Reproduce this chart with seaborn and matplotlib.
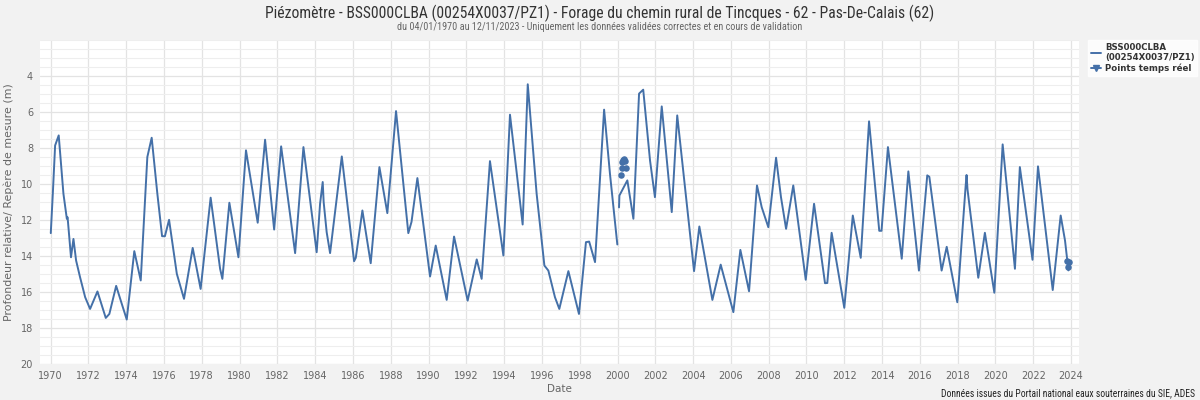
import numpy as np
import pandas as pd
import matplotlib
matplotlib.use("Agg")
import matplotlib.pyplot as plt
import seaborn as sns
from matplotlib import font_manager
from matplotlib.lines import Line2D
from matplotlib.ticker import MultipleLocator, FixedLocator

# ---- data (decimal year, depth in m) ----
years = [
    1970.01, 1970.12, 1970.24, 1970.43, 1970.68, 1970.86, 1970.90, 1971.08, 1971.21, 1971.35,
    1971.56, 1971.83, 1972.09, 1972.48, 1972.92, 1973.11, 1973.47, 1973.75, 1974.03, 1974.43,
    1974.77, 1975.12, 1975.35, 1975.65, 1975.90, 1976.05, 1976.27, 1976.68, 1977.06, 1977.52,
    1977.94, 1978.47, 1978.97, 1979.09, 1979.46, 1979.94, 1980.34, 1980.96, 1981.35, 1981.83,
    1982.20, 1982.94, 1983.38, 1984.08, 1984.26, 1984.40, 1984.45, 1984.61, 1984.79, 1985.41,
    1986.06, 1986.15, 1986.50, 1986.94, 1987.40, 1987.82, 1988.28, 1988.93, 1989.10, 1989.41,
    1990.08, 1990.38, 1990.96, 1991.35, 1992.07, 1992.55, 1992.81, 1993.25, 1993.96, 1994.31,
    1994.98, 1995.25, 1995.72, 1996.13, 1996.34, 1996.69, 1996.92, 1997.40, 1997.96, 1998.33,
    1998.50, 1998.81, 1999.29, 1999.60, 1999.99,
    2000.08, 2000.10, 2000.52, 2000.84, 2001.14, 2001.36, 2001.72, 2001.98, 2002.34, 2002.87,
    2003.16, 2004.05, 2004.33, 2005.02, 2005.46, 2006.13, 2006.50, 2006.96, 2007.38, 2007.63,
    2007.98, 2008.39, 2008.65, 2008.92, 2009.30, 2009.96, 2010.40, 2010.98, 2011.10, 2011.33,
    2012.00, 2012.45, 2012.87, 2013.31, 2013.85, 2013.97, 2014.31, 2015.04, 2015.39, 2015.95,
    2016.39, 2016.50, 2017.15, 2017.42, 2017.98, 2018.42, 2018.47, 2018.52, 2019.09, 2019.44,
    2019.94, 2020.38, 2021.03, 2021.29, 2021.96, 2022.25, 2023.03, 2023.45, 2023.68, 2023.86,
]
levels = [
    12.73, 10.50, 7.86, 7.30, 10.54, 11.93, 11.85, 14.07, 13.05, 14.25,
    15.18, 16.29, 16.94, 15.97, 17.44, 17.22, 15.66, 16.60, 17.53, 13.73,
    15.36, 8.50, 7.43, 10.54, 12.90, 12.90, 11.99, 14.99, 16.38, 13.55,
    15.83, 10.76, 14.71, 15.27, 11.04, 14.07, 8.13, 12.15, 7.54, 12.53,
    7.91, 13.84, 7.95, 13.79, 11.10, 9.89, 11.00, 12.68, 13.84, 8.47,
    14.29, 14.10, 11.47, 14.40, 9.06, 11.62, 5.95, 12.73, 12.10, 9.67,
    15.14, 13.42, 16.44, 12.92, 16.48, 14.19, 15.27, 8.73, 13.97, 6.15,
    12.25, 4.46, 10.54, 14.53, 14.81, 16.29, 16.94, 14.84, 17.22, 13.23,
    13.20, 14.34, 5.87, 9.43, 13.36,
    11.30, 10.64, 9.80, 11.93, 4.98, 4.76, 8.69, 10.73, 5.69, 11.56,
    6.19, 14.84, 12.36, 16.44, 14.48, 17.12, 13.66, 15.96, 10.08, 11.29,
    12.40, 8.54, 10.73, 12.49, 10.08, 15.32, 11.10, 15.51, 15.50, 12.71,
    16.88, 11.75, 14.10, 6.52, 12.60, 12.60, 7.95, 14.15, 9.30, 14.81,
    9.52, 9.60, 14.81, 13.49, 16.57, 10.13, 9.50, 10.30, 15.21, 12.71,
    16.04, 7.80, 14.71, 9.06, 14.21, 9.02, 15.89, 11.75, 13.14, 14.80,
]
rt_years = [2000.19, 2000.22, 2000.26, 2000.30, 2000.34, 2000.38, 2000.44, 2023.80, 2023.84, 2023.88]
rt_levels = [9.52, 9.10, 8.80, 8.65, 8.62, 8.70, 9.10, 14.30, 14.60, 14.35]

series_label = "BSS000CLBA\n(00254X0037/PZ1)"
rt_label = "Points temps réel"
title = "Piézomètre - BSS000CLBA (00254X0037/PZ1) - Forage du chemin rural de Tincques - 62 - Pas-De-Calais (62)"
subtitle = "du 04/01/1970 au 12/11/2023 - Uniquement les données validées correctes et en cours de validation"
ylabel = "Profondeur relative/ Repère de mesure (m)"
xlabel = "Date"
footer = "Données issues du Portail national eaux souterraines du SIE, ADES"
x_ticks = list(range(1970, 2025, 2))
y_ticks = list(range(4, 21, 2))

# ---- styling ----
sns.set_theme(style="white")
plt.rcParams['font.family'] = ['DejaVu Sans']
installed = {f.name for f in font_manager.fontManager.ttflist}
NARROW = 'DejaVu Sans'
for cand in ['Liberation Sans Narrow', 'Roboto Condensed', 'Liberation Sans', 'Roboto']:
    if cand in installed:
        NARROW = cand
        break
LINE = "#4470a8"
BG = "#f2f2f2"
TXT = "#666666"

df = pd.DataFrame({"year": years, "level": levels})
df["part"] = (df["year"] > 2000.05).astype(int)
rt = pd.DataFrame({"year": rt_years, "level": rt_levels})

fig = plt.figure(figsize=(12, 4), dpi=100, facecolor=BG)
ax = fig.add_axes([40 / 1200, 1 - 364 / 400, 1039 / 1200, 324 / 400])
ax.set_facecolor("white")

sns.lineplot(data=df, x="year", y="level", units="part", estimator=None,
             color=LINE, linewidth=1.4, ax=ax, legend=False)
sns.scatterplot(data=rt, x="year", y="level", color=LINE, s=22, linewidth=0,
                ax=ax, legend=False)

ax.set_xlim(1969.44, 2024.42)
ax.set_ylim(20, 2.0)
ax.xaxis.set_major_locator(FixedLocator(x_ticks))
ax.xaxis.set_minor_locator(MultipleLocator(1))
ax.yaxis.set_major_locator(FixedLocator(y_ticks))
ax.yaxis.set_minor_locator(MultipleLocator(0.5))
ax.grid(which="major", axis="both", color="#e3e3e3", linewidth=0.9)
ax.grid(which="minor", axis="y", color="#eeeeee", linewidth=0.8)
ax.set_axisbelow(True)
for s in ax.spines.values():
    s.set_visible(False)
ax.tick_params(axis="both", which="both", length=0, labelsize=7, labelcolor=TXT)
ax.tick_params(axis="x", pad=5)
ax.tick_params(axis="y", pad=5)

ax.set_xlabel(xlabel, fontsize=7.5, color=TXT, labelpad=2)
ylab = ax.set_ylabel(ylabel, fontsize=7.5, color=TXT)
ax.yaxis.set_label_coords((14 - 40) / 1039, 0.5)

t_title = fig.text(0.5, 1 - 13 / 400, title, ha="center", va="center", fontsize=11,
                   color="#333333", family=NARROW)
t_sub = fig.text(0.5, 1 - 27 / 400, subtitle, ha="center", va="center", fontsize=7,
                 color=TXT, family=NARROW)
t_foot = fig.text(1195 / 1200, 1 - 393 / 400, footer, ha="right", va="center", fontsize=7.5,
                  color="#222222", family=NARROW)

# fit text widths to the reference widths (in pixels)
renderer = fig.canvas.get_renderer()
for t, target in [(t_title, 668), (t_sub, 404), (t_foot, 253)]:
    w = t.get_window_extent(renderer).width
    t.set_fontsize(t.get_fontsize() * target / w)
h = ylab.get_window_extent(renderer).height
ylab.set_fontsize(ylab.get_fontsize() * 235 / h)

handles = [
    Line2D([0], [0], color=LINE, lw=1.4),
    Line2D([0], [0], color=LINE, lw=1.4, marker="v", markersize=5),
]
leg = fig.legend(handles, [series_label, rt_label], loc="upper left",
                 bbox_to_anchor=(1088 / 1200, 1 - 40 / 400), frameon=True,
                 fancybox=False, handlelength=1.2, handletextpad=0.4,
                 borderpad=0.35, borderaxespad=0, labelspacing=0.15,
                 prop={"size": 6.2, "weight": "bold", "family": "DejaVu Sans"})
leg.get_frame().set_facecolor("white")
leg.get_frame().set_edgecolor("white")
for t in leg.get_texts():
    t.set_color("#333333")

fig.savefig("out.png", dpi=100, facecolor=BG)
